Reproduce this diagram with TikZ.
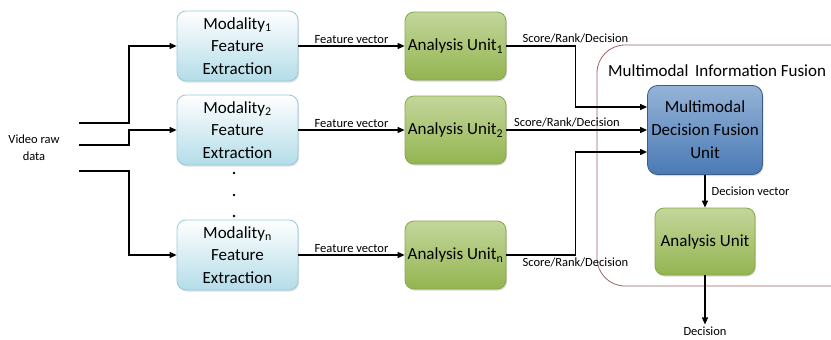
\documentclass[tikz,border=0pt]{standalone}
\usepackage{fontspec}
\setmainfont{Carlito}
\usetikzlibrary{arrows.meta,shadows}
\definecolor{featline}{HTML}{93CDDD}
\definecolor{featfill}{HTML}{B3DCE8}
\definecolor{unitline}{HTML}{86A84A}
\definecolor{unittop}{HTML}{C3D69B}
\definecolor{unitbot}{HTML}{93B550}
\definecolor{fuseline}{HTML}{385D8A}
\definecolor{fusetop}{HTML}{95B3D7}
\definecolor{fusebot}{HTML}{4A7AB5}
\definecolor{frameline}{HTML}{9A6464}

\begin{document}
\begin{tikzpicture}[x=1pt, y=-1pt, >={Triangle[length=7pt,width=6pt]},
modbox/.style={rectangle, rounded corners=9pt, draw=featline, thick, top color=white, bottom color=featfill, minimum width=121pt, minimum height=70pt, align=center, inner sep=1pt, font=\fontsize{17}{22.5}\selectfont, drop shadow={shadow xshift=1pt, shadow yshift=-1.5pt, opacity=0.25}},
unitbox/.style={rectangle, rounded corners=9pt, draw=unitline, thick, top color=unittop, bottom color=unitbot, minimum width=101pt, minimum height=68pt, align=center, inner sep=1pt, font=\fontsize{17}{22}\selectfont, drop shadow={shadow xshift=1pt, shadow yshift=-1.5pt, opacity=0.3}},
fusebox/.style={rectangle, rounded corners=10pt, draw=fuseline, thick, top color=fusetop, bottom color=fusebot, minimum width=115pt, minimum height=89pt, align=center, inner sep=1pt, font=\fontsize{17}{23}\selectfont, drop shadow={shadow xshift=1pt, shadow yshift=-1.5pt, opacity=0.3}},
lbl/.style={font=\fontsize{12.5}{15}\selectfont, inner sep=2pt},
link/.style={->, line width=1.2pt}
]
\useasboundingbox (0,0) rectangle (831,340);
%Frame
\draw[frameline, line width=0.8pt, rounded corners=28pt] (597,45) rectangle (860,286);
\node[anchor=west, font=\fontsize{17}{19}\selectfont, inner sep=0pt] (title) at (608,71) {Multimodal\ \,Information Fusion};
%Nodes
\node[lbl, align=center, font=\fontsize{12.5}{17}\selectfont] (raw) at (34,148) {Video raw\\data};
\node[modbox]  (mod1) at (237.5,46)  {Modality\textsubscript{1}\\Feature\\Extraction};
\node[modbox]  (mod2) at (237.5,130) {Modality\textsubscript{2}\\Feature\\Extraction};
\node[modbox]  (modn) at (237.5,255) {Modality\textsubscript{n}\\Feature\\Extraction};
\node[unitbox] (ana1) at (455.5,46)  {Analysis Unit\textsubscript{1}};
\node[unitbox] (ana2) at (455.5,130) {Analysis Unit\textsubscript{2}};
\node[unitbox] (anan) at (455.5,255) {Analysis Unit\textsubscript{n}};
\node[fusebox] (fuse) at (705,130)   {Multimodal\\Decision Fusion\\Unit};
\node[unitbox, minimum width=100pt, minimum height=67pt] (anaf) at (705,241.5) {Analysis Unit};
\node[lbl] (dec) at (705,331) {Decision};
\coordinate (in1) at (79,123);
\coordinate (in2) at (79,145);
\coordinate (in3) at (79,171);
%Dots
\foreach \yy in {173,195,216} \fill (234,\yy) circle (1.3pt);
%Lines
\draw[link] (in1) -- ++(50,0) |- (mod1.west);
\draw[link] (in2) -- ++(50,0) |- (mod2.west);
\draw[link] (in3) -- ++(50,0) |- (modn.west);
\draw[link] (mod1) -- (ana1) node[lbl, midway, above] {Feature vector};
\draw[link] (mod2) -- (ana2) node[lbl, midway, above] {Feature vector};
\draw[link] (modn) -- (anan) node[lbl, midway, above] {Feature vector};
\draw[link] (ana1.east) -- ++(69,0) node[lbl, above] {Score/Rank/Decision} |- ([yshift=23pt]fuse.west);
\draw[link] (ana2) -- (fuse) node[lbl, pos=0.43, above] {Score/Rank/Decision};
\draw[link] (anan.east) -- ++(69,0) node[lbl, below] {Score/Rank/Decision} |- ([yshift=-22pt]fuse.west);
\draw[link] (fuse) -- (anaf) node[lbl, midway, right, xshift=4pt] {Decision vector};
\draw[link] (anaf) -- (dec);
\end{tikzpicture}
\end{document}
